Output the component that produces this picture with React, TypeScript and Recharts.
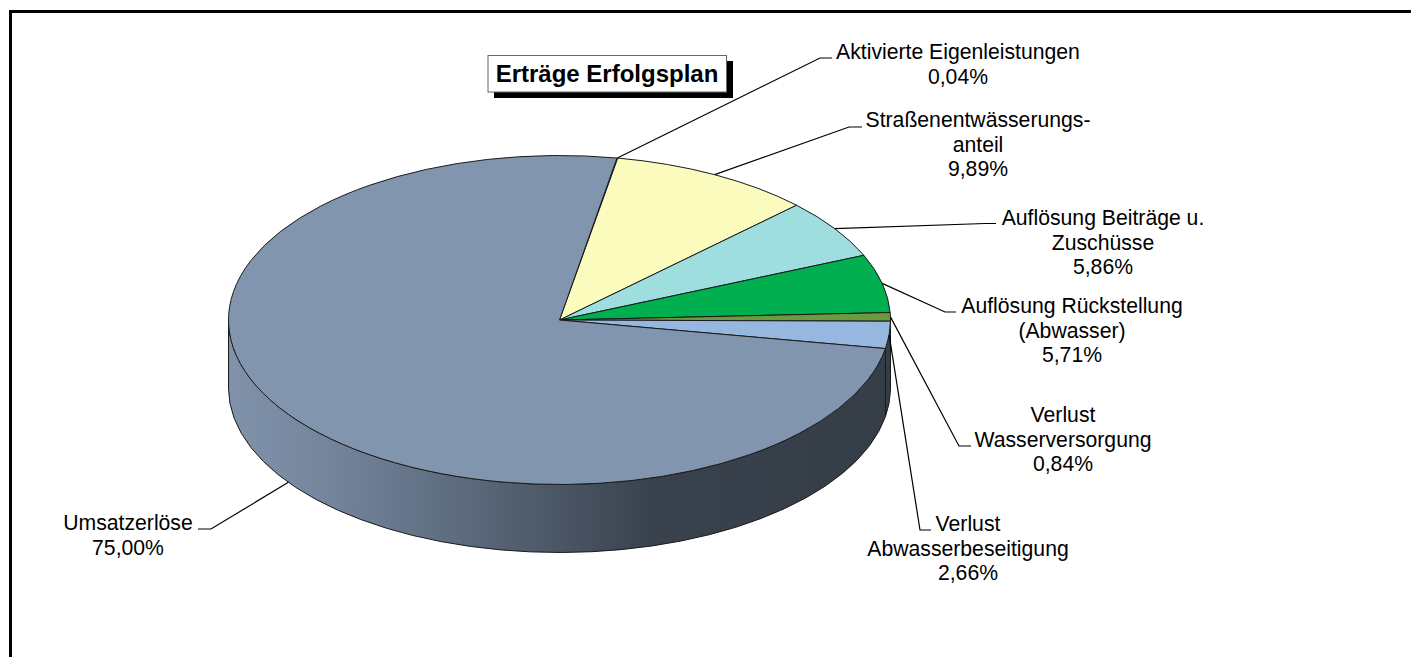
import React from 'react';
import { PieChart, Pie } from 'recharts';

const WIDTH = 1411;
const HEIGHT = 657;
const FONT = '"Liberation Sans", Arial, sans-serif';

// Data
const categories = [
  'Aktivierte Eigenleistungen',
  'Straßenentwässerungsanteil',
  'Auflösung Beiträge u. Zuschüsse',
  'Auflösung Rückstellung (Abwasser)',
  'Verlust Wasserversorgung',
  'Verlust Abwasserbeseitigung',
  'Umsatzerlöse',
];
const values = [0.04, 9.89, 5.86, 5.71, 0.84, 2.66, 75.0];
const labelNames = [
  ['Aktivierte Eigenleistungen'],
  ['Straßenentwässerungs-', 'anteil'],
  ['Auflösung Beiträge u.', 'Zuschüsse'],
  ['Auflösung Rückstellung', '(Abwasser)'],
  ['Verlust', 'Wasserversorgung'],
  ['Verlust', 'Abwasserbeseitigung'],
  ['Umsatzerlöse'],
];
const TITLE = 'Erträge Erfolgsplan';

// Styling and layout
const colors = ['#4f6b3a', '#FBFBBE', '#9EDEDE', '#00B050', '#6D9A3F', '#95B7E0', '#8196AE'];
const labelLayout = [
  { cx: 958, y: 59, elbow: [820, 58], tail: 832 },
  { cx: 978, y: 127, elbow: [849, 127], tail: 862 },
  { cx: 1103, y: 225, elbow: [985, 223.5], tail: 996 },
  { cx: 1072, y: 313, elbow: [945, 312], tail: 956 },
  { cx: 1063, y: 422, elbow: [959, 446], tail: 971 },
  { cx: 968, y: 531, elbow: [920, 530], tail: 931 },
  { cx: 128, y: 530, elbow: [211, 529], tail: 198 },
];
const LINE_H = 24.5;
const RY_RATIO = 164.5 / 331;
const DEPTH = 68;

const chartData = categories.map((name, i) => ({ name, value: values[i], fill: colors[i] }));

const fmt = (v: number) => v.toFixed(2).replace('.', ',') + '%';
const pt = (cx: number, cy: number, rx: number, ry: number, deg: number) => {
  const t = (deg * Math.PI) / 180;
  return [cx + rx * Math.cos(t), cy - ry * Math.sin(t)];
};

const TopSlice = (p: any) => {
  const { cx, cy, outerRadius: rx, startAngle, endAngle, fill } = p;
  const ry = rx * RY_RATIO;
  const a = pt(cx, cy, rx, ry, startAngle);
  const b = pt(cx, cy, rx, ry, endAngle);
  const large = Math.abs(startAngle - endAngle) > 180 ? 1 : 0;
  return (
    <path
      d={`M${cx},${cy}L${a[0]},${a[1]}A${rx},${ry} 0 ${large} 1 ${b[0]},${b[1]}Z`}
      fill={fill}
      stroke="#1a1a1a"
      strokeWidth={1}
      strokeLinejoin="round"
    />
  );
};

const WallSlice = (p: any) => {
  const { cx, cy, outerRadius: rx, startAngle, endAngle } = p;
  const ry = rx * RY_RATIO;
  const hi = Math.min(startAngle, 0);
  const lo = Math.max(endAngle, -180);
  if (hi <= lo) return <g />;
  const a = pt(cx, cy, rx, ry, hi);
  const b = pt(cx, cy, rx, ry, lo);
  return (
    <path
      d={`M${a[0]},${a[1]}A${rx},${ry} 0 0 1 ${b[0]},${b[1]}L${b[0]},${b[1] + DEPTH}A${rx},${ry} 0 0 0 ${a[0]},${a[1] + DEPTH}Z`}
      fill="url(#wallGradient)"
      stroke="#1a1a1a"
      strokeWidth={1}
      strokeLinejoin="round"
    />
  );
};

const SliceLabel = (p: any) => {
  const { cx, cy, outerRadius: rx, midAngle, index } = p;
  const ry = rx * RY_RATIO;
  const layout = labelLayout[index];
  let anchor = pt(cx, cy, rx, ry, midAngle);
  if (index === 6) anchor = [anchor[0], anchor[1] + DEPTH];
  const lines = [...labelNames[index], fmt(values[index])];
  return (
    <g>
      <polyline
        points={`${anchor[0]},${anchor[1]} ${layout.elbow[0]},${layout.elbow[1]} ${layout.tail},${layout.elbow[1]}`}
        fill="none"
        stroke="#000"
        strokeWidth={1.2}
      />
      {lines.map((line, i) => (
        <text
          key={i}
          x={layout.cx}
          y={layout.y + i * LINE_H}
          textAnchor="middle"
          fontFamily={FONT}
          fontSize={21.2}
          fill="#000"
        >
          {line}
        </text>
      ))}
    </g>
  );
};

export default function App() {
  return (
    <div style={{ position: 'absolute', left: 0, top: 0, width: WIDTH, height: HEIGHT, overflow: 'hidden', background: '#fff' }}>
      <PieChart width={WIDTH} height={HEIGHT} margin={{ top: 0, right: 0, bottom: 0, left: 0 }}>
        <defs>
          <linearGradient id="wallGradient" gradientUnits="userSpaceOnUse" x1={229} y1={0} x2={890} y2={0}>
            <stop offset="0" stopColor="#8093AB" />
            <stop offset="0.16" stopColor="#73849B" />
            <stop offset="0.5" stopColor="#4B5665" />
            <stop offset="0.64" stopColor="#39424D" />
            <stop offset="1" stopColor="#353D47" />
          </linearGradient>
        </defs>
        <path d={`M10.5,${HEIGHT}V11.5H${WIDTH}`} fill="none" stroke="#000" strokeWidth={3} />
        <Pie
          data={chartData}
          dataKey="value"
          nameKey="name"
          cx={559.5}
          cy={320}
          innerRadius={0}
          outerRadius={331}
          startAngle={80}
          endAngle={-280}
          stroke="none"
          isAnimationActive={false}
          shape={WallSlice}
          label={false}
          labelLine={false}
        />
        <Pie
          data={chartData}
          dataKey="value"
          nameKey="name"
          cx={559.5}
          cy={320}
          innerRadius={0}
          outerRadius={331}
          startAngle={80}
          endAngle={-280}
          isAnimationActive={false}
          shape={TopSlice}
          label={SliceLabel}
          labelLine={false}
        />
        <rect x={494} y={61} width={239} height={37} fill="#000" />
        <rect x={488} y={55.5} width={238.5} height={36.5} fill="#fff" stroke="#666" strokeWidth={1} />
        <text x={607} y={82} textAnchor="middle" fontFamily={FONT} fontWeight="bold" fontSize={24} fill="#000">
          {TITLE}
        </text>
      </PieChart>
    </div>
  );
}
